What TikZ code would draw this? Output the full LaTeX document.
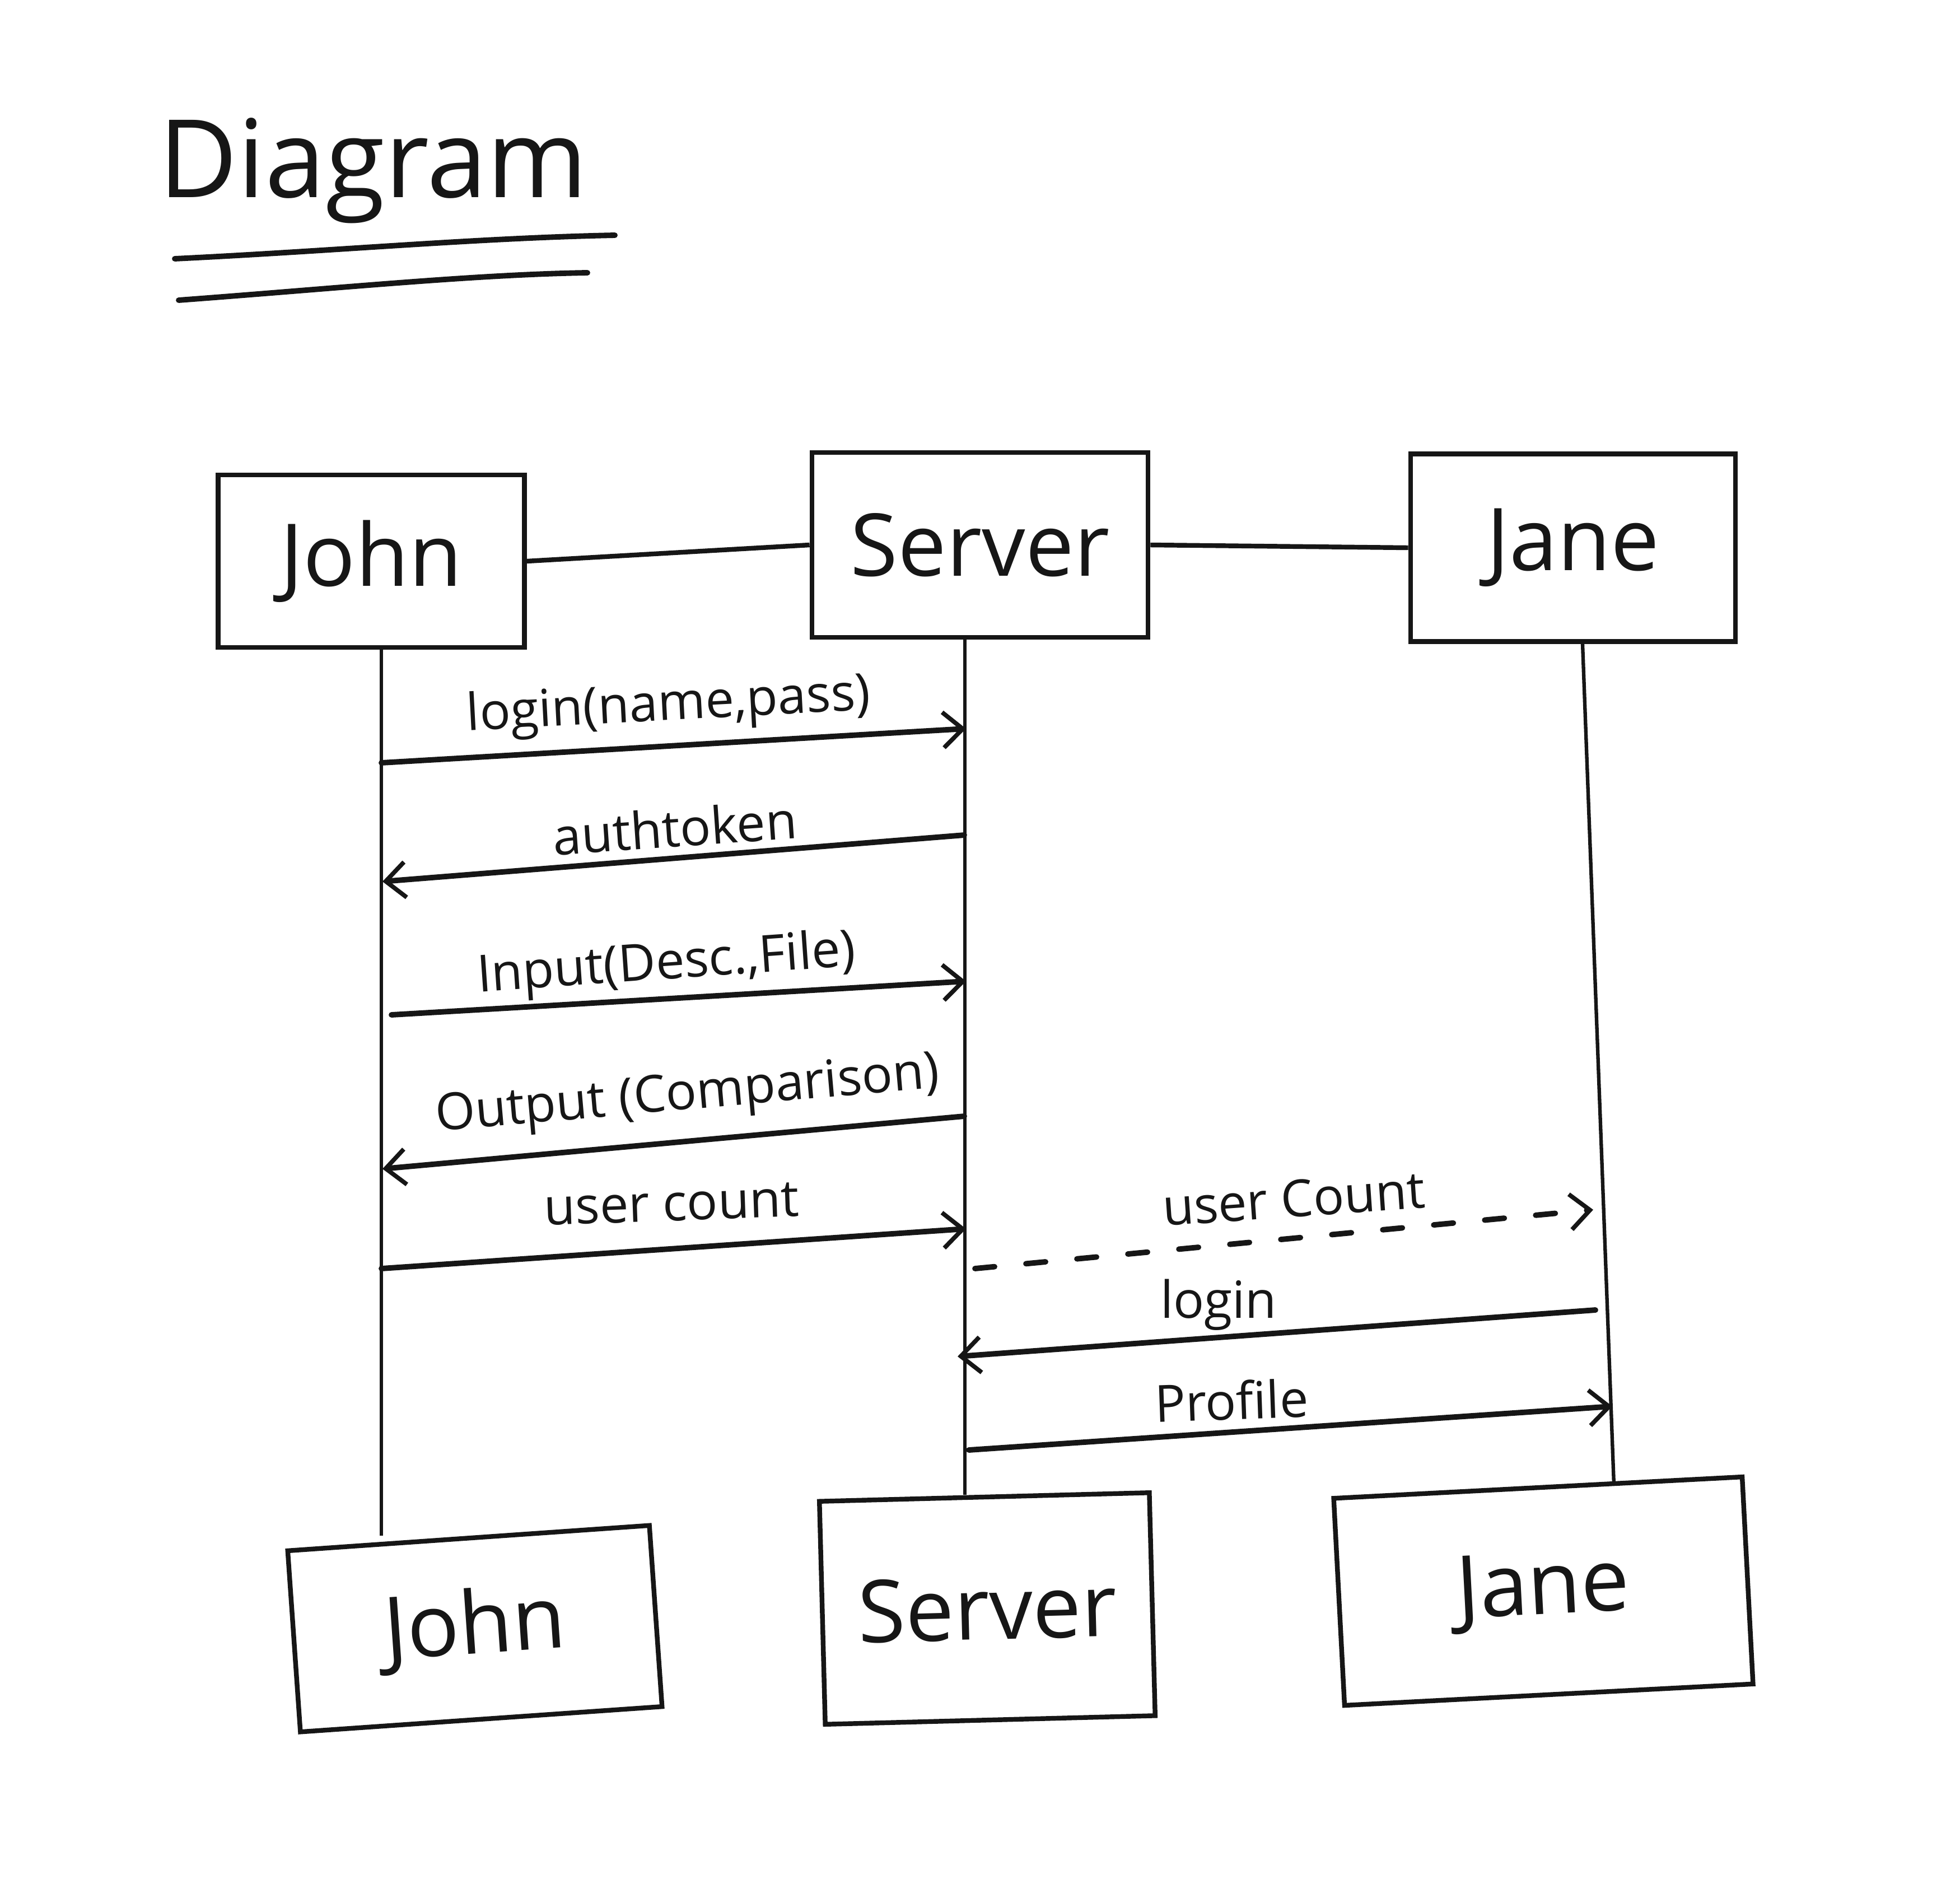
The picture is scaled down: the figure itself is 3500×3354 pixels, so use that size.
\documentclass[tikz,border=0pt]{standalone}
\usepackage{fontspec}
\setmainfont{Open Sans}
\usetikzlibrary{arrows.meta}
\definecolor{ink}{RGB}{22,22,22}
\begin{document}
\begin{tikzpicture}[x=0.01cm,y=-0.01cm,
  box/.style={draw=ink,line width=2.4pt,rectangle,inner sep=0pt,text=ink,font=\fontsize{44}{50}\selectfont},
  life/.style={draw=ink,line width=1.8pt},
  msg/.style={draw=ink,line width=2.8pt,line cap=round,-{Straight Barb[length=10pt,width=18pt,line width=2.2pt]}},
  dmsg/.style={msg,dash pattern=on 10pt off 16pt},
  lbl/.style={text=ink,inner sep=0pt,font=\fontsize{26}{30}\selectfont},
  ttl/.style={text=ink,inner sep=0pt,font=\fontsize{55}{60}\selectfont},
  uline/.style={draw=ink,line width=2.8pt,line cap=round}]
\useasboundingbox[fill=white] (0,0) rectangle (3500,3354);

% title
\node[ttl,anchor=base west] (title) at (283,352) {Diagram};
\draw[uline] (312,462) .. controls (600,448) and (850,425) .. (1098,420);
\draw[uline] (319,536) .. controls (600,515) and (850,490) .. (1049,487);

% participant boxes
\node[box,minimum width=5.47cm,minimum height=3.08cm] (johnT) at (663,1002) {John};
\node[box,minimum width=6.0cm,minimum height=3.3cm] (serverT) at (1750,973) {Server};
\node[box,minimum width=5.8cm,minimum height=3.35cm] (janeT) at (2809,978) {Jane};
\node[box,minimum width=6.47cm,minimum height=3.24cm,rotate=4] (johnB) at (848,2908) {John};
\node[box,minimum width=5.89cm,minimum height=3.98cm,rotate=1.5] (serverB) at (1763,2872) {Server};
\node[box,minimum width=7.3cm,minimum height=3.7cm,rotate=3] (janeB) at (2756,2841) {Jane};

% top links
\draw[life,line width=2.4pt] (johnT.east) -- (serverT.west);
\draw[life,line width=2.4pt] (serverT.east) -- (janeT.west);

% lifelines
\coordinate (jx) at (681,0);
\coordinate (sx) at (1723,0);
\coordinate (nxT) at (2826,0);
\coordinate (nxB) at (2882,0);
\draw[life] (johnT.south -| jx) -- (johnB.north -| jx);
\draw[life] (serverT.south -| sx) -- (serverB.north -| sx);
\draw[life] (janeT.south -| nxT) -- (janeB.north -| nxB);

% message end points
\coordinate (m1a) at (681,1362);  \coordinate (m1b) at (1725,1301);
\coordinate (m2a) at (1722,1491); \coordinate (m2b) at (683,1574);
\coordinate (m3a) at (699,1812);  \coordinate (m3b) at (1725,1752);
\coordinate (m4a) at (1722,1993); \coordinate (m4b) at (683,2087);
\coordinate (m5a) at (681,2265);  \coordinate (m5b) at (1725,2194);
\coordinate (m6a) at (1741,2265); \coordinate (m6b) at (2845,2160);
\coordinate (m7a) at (2849,2339); \coordinate (m7b) at (1710,2422);
\coordinate (m8a) at (1730,2589); \coordinate (m8b) at (2879,2511);

\draw[msg] (m1a) -- (m1b);
\draw[msg] (m2a) -- (m2b);
\draw[msg] (m3a) -- (m3b);
\draw[msg] (m4a) -- (m4b);
\draw[msg] (m5a) -- (m5b);
\draw[dmsg] (m6a) -- (m6b);
\draw[msg] (m7a) -- (m7b);
\draw[msg] (m8a) -- (m8b);

% labels
\node[lbl,rotate=3] (l1) at (1194,1262) {login(name,pass)};
\node[lbl,rotate=4] (l2) at (1205,1478) {authtoken};
\node[lbl,rotate=4] (l3) at (1190,1724) {Input(Desc.,File)};
\node[lbl,rotate=5] (l4) at (1228,1958) {Output (Comparison)};
\node[lbl,rotate=2] (l5) at (1199,2150) {user count};
\node[lbl,rotate=4] (l6) at (2310,2140) {user Count};
\node[lbl] (l7) at (2176,2330) {login};
\node[lbl,rotate=2] (l8) at (2199,2500) {Profile};
\end{tikzpicture}
\end{document}
